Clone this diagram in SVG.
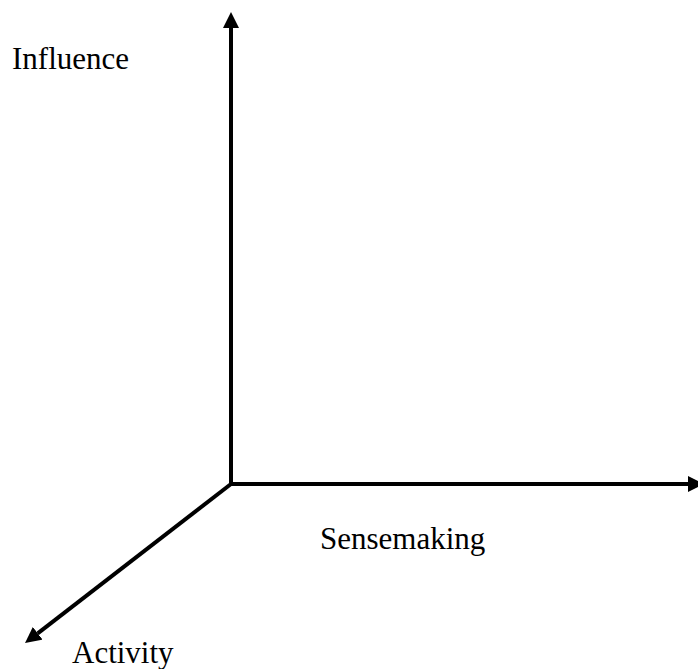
<svg xmlns="http://www.w3.org/2000/svg" width="698" height="669" viewBox="0 0 698 669">
  <style>
    .axis { stroke: #000; stroke-width: 4; fill: none; }
    .label { font-family: "Liberation Serif", "Times New Roman", serif; font-size: 31px; fill: #000; }
  </style>
  <defs>
    <marker id="arrow" viewBox="0 0 16 16" refX="0" refY="8" markerWidth="16" markerHeight="16" markerUnits="userSpaceOnUse" orient="auto">
      <path d="M0,0 L16,8 L0,16 z" fill="#000"/>
    </marker>
  </defs>
  <rect width="698" height="669" fill="#fff"/>
  <!-- three axes meeting at the origin (231,484) -->
  <g id="connectors">
    <line class="axis" x1="231" y1="486" x2="231" y2="28" marker-end="url(#arrow)"/>
    <line class="axis" x1="229" y1="484" x2="688" y2="484" marker-end="url(#arrow)"/>
    <line class="axis" x1="231" y1="484" x2="37.7" y2="633.3" marker-end="url(#arrow)"/>
  </g>
  <g id="influence">
    <text class="label" x="12" y="69">Influence</text>
  </g>
  <g id="sensemaking">
    <text class="label" x="320" y="549">Sensemaking</text>
  </g>
  <g id="activity">
    <text class="label" x="72" y="663">Activity</text>
  </g>
</svg>
